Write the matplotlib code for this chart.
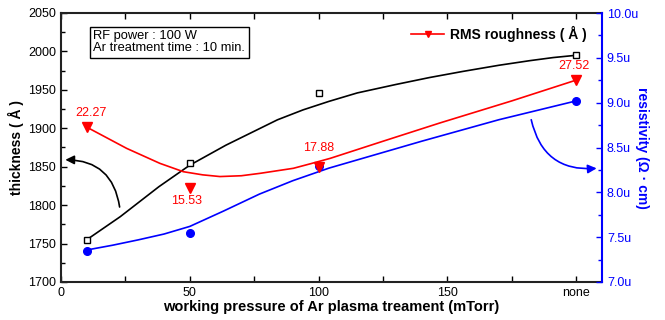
import matplotlib
matplotlib.use('agg')
import matplotlib.pyplot as plt
from matplotlib.ticker import MultipleLocator, FuncFormatter
from matplotlib.lines import Line2D

plt.rcParams['font.family'] = ['Liberation Sans', 'DejaVu Sans']

# measured points ("none" placed at 200)
pressure = [10, 50, 100, 200]
thickness = [1755, 1855, 1946, 1995]
roughness = [22.27, 15.53, 17.88, 27.52]
resistivity = [7.35, 7.55, 8.29, 9.02]   # x 1e-6 ohm cm
rough_labels = ['22.27', '15.53', '17.88', '27.52']

# smooth guide curves
curve_x_thick = [10, 23, 38, 50, 64, 84, 94, 104, 115, 130, 143, 156, 170, 182, 191, 200]
curve_thick = [1755, 1785, 1824, 1852, 1878, 1911, 1924, 1935, 1946, 1957, 1966, 1974, 1982, 1988, 1992, 1995]
curve_x_rough = [10, 25.5, 38.4, 47.5, 55, 61.7, 70, 77.3, 90.2, 97, 104.5, 125, 147, 175, 200]
curve_rough = [22.27, 19.9, 18.23, 17.3, 16.95, 16.76, 16.85, 17.12, 17.68, 18.2, 18.79, 20.7, 22.73, 25.2, 27.52]
curve_x_res = [10, 20, 30, 40, 50, 63, 77, 90, 104, 140, 170, 200]
curve_res = [7.357, 7.41, 7.47, 7.535, 7.62, 7.79, 7.98, 8.13, 8.27, 8.57, 8.81, 9.02]

xticks = [0, 50, 100, 150, 200]
xticklabels = ['0', '50', '100', '150', 'none']

fig = plt.figure(figsize=(6.65, 3.2), dpi=100)
ax = fig.add_axes([61/665, 1-282/320, 541/665, 269/320])
ax2 = ax.twinx()
ax3 = ax.twinx()

blue = '#0000ff'
red = '#ff0000'

# thickness
ax.plot(curve_x_thick, curve_thick, color='black', lw=1.2)
ax.plot(pressure, thickness, ls='none', marker='s', ms=5, mfc='white', mec='black', mew=1)
ax.set_xlim(0, 210)
ax.set_ylim(1700, 2050)
ax.set_xticks(xticks)
ax.set_xticklabels(xticklabels)
ax.xaxis.set_minor_locator(MultipleLocator(25))
ax.yaxis.set_major_locator(MultipleLocator(50))
ax.yaxis.set_minor_locator(MultipleLocator(25))
ax.tick_params(axis='both', which='both', direction='in', labelsize=9)
ax.tick_params(axis='x', which='both', top=True)
ax.tick_params(which='major', length=4, width=1)
ax.tick_params(which='minor', length=3, width=1)
ax.tick_params(axis='x', which='minor', length=4)
ax.set_xlabel('working pressure of Ar plasma treament (mTorr)', fontsize=10.5, fontweight='bold', labelpad=1)
ax.set_ylabel('thickness ( Å )', fontsize=10, fontweight='bold', labelpad=3)
for s in ['left', 'bottom', 'top']:
    ax.spines[s].set_linewidth(1.5)
    ax.spines[s].set_color('#222222')
ax.spines['right'].set_visible(False)

# resistivity
ax2.plot(curve_x_res, curve_res, color=blue, lw=1.2)
ax2.plot(pressure, resistivity, ls='none', marker='o', ms=5.5, color=blue)
ax2.set_ylim(7.0, 10.0)
ax2.yaxis.set_major_locator(MultipleLocator(0.5))
ax2.yaxis.set_minor_locator(MultipleLocator(0.25))
ax2.yaxis.set_major_formatter(FuncFormatter(lambda v, p: f'{v:.1f}u'))
ax2.tick_params(axis='y', which='both', direction='in', colors=blue, labelsize=9)
ax2.tick_params(which='major', length=4, width=1)
ax2.tick_params(which='minor', length=3, width=1)
ax2.spines['right'].set_color(blue)
ax2.spines['right'].set_linewidth(1.5)
for s in ['left', 'bottom', 'top']:
    ax2.spines[s].set_visible(False)
ax2.set_ylabel('resistivity (Ω · cm)', fontsize=10, fontweight='bold', color=blue,
               rotation=270, labelpad=8)

# roughness (hidden axis)
ax3.plot(curve_x_rough, curve_rough, color=red, lw=1.2)
ax3.plot(pressure, roughness, ls='none', marker='v', ms=6.5, color=red)
ax3.set_ylim(5, 35)
ax3.axis('off')
offsets = [(3, 10), (-2, -10), (0, 13), (-2, 10)]
for x, r, lab, off in zip(pressure, roughness, rough_labels, offsets):
    ax3.annotate(lab, (x, r), xytext=off, textcoords='offset points',
                 ha='center', va='center', color=red, fontsize=9)
handle = Line2D([], [], color=red, lw=1.2, marker='v', ms=5)
ax3.legend([handle], ['RMS roughness ( Å )'], loc='upper right', bbox_to_anchor=(0.995, 1.0),
           frameon=False, prop={'size': 10, 'weight': 'bold'}, handlelength=2.4, handletextpad=0.4)

# text box
ax.text(0.06, 0.935, 'RF power : 100 W\nAr treatment time : 10 min.', transform=ax.transAxes,
        fontsize=9.3, va='top', ha='left', linespacing=1.0,
        bbox=dict(boxstyle='square,pad=0.3', fc='white', ec='black', lw=1))

# curved arrows to the axes
ax.annotate('', xy=(0.6, 1859), xytext=(22.9, 1794),
            arrowprops=dict(arrowstyle='-|>', color='black', lw=1.2, mutation_scale=13,
                            connectionstyle='arc3,rad=0.45'))
ax2.annotate('', xy=(209, 8.27), xytext=(182.3, 8.84),
             arrowprops=dict(arrowstyle='-|>', color=blue, lw=1.2, mutation_scale=13,
                             connectionstyle='arc3,rad=0.45'))

fig.savefig('out.png', dpi=100)
